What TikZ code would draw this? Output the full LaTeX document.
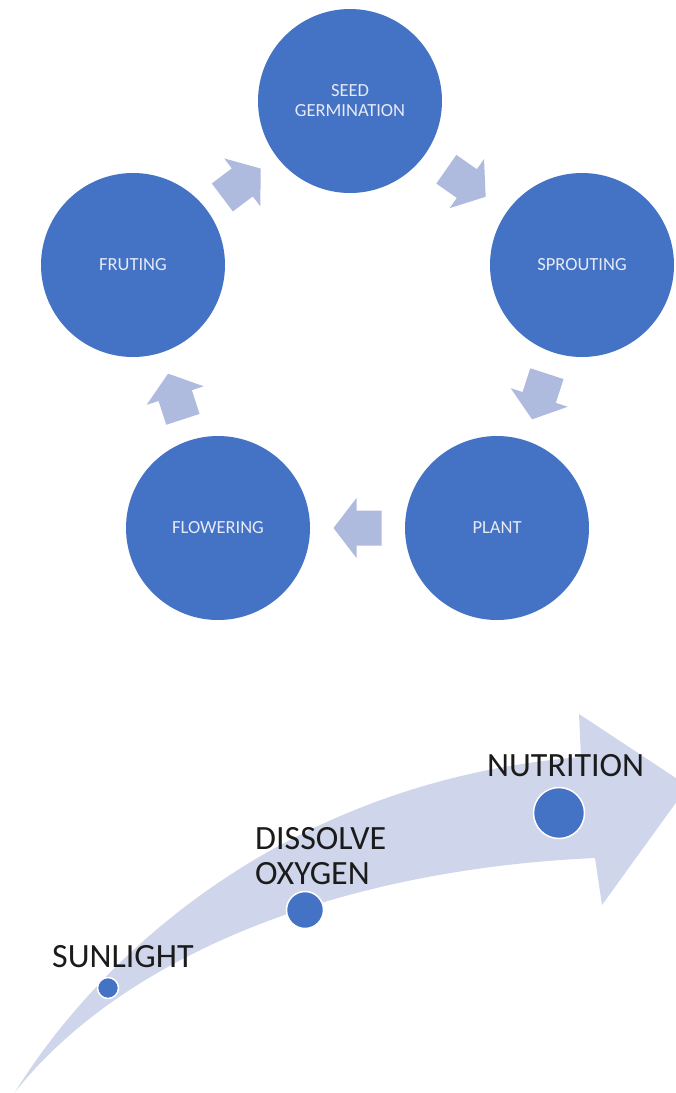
\documentclass[tikz,border=0pt]{standalone}
\usepackage{fontspec}
\setmainfont{Carlito}
\usetikzlibrary{calc}
\definecolor{circ}{HTML}{4472C4}
\definecolor{chev}{HTML}{AEBADE}
\definecolor{band}{HTML}{CFD5EA}
\definecolor{ctext}{HTML}{E6EAF6}
\definecolor{dtext}{HTML}{1B1B1B}
\tikzset{
  stage/.style={circle, fill=circ, minimum size=184pt, inner sep=0pt, text=ctext, align=center, font=\fontsize{18.5}{20}\selectfont},
  blockarrow/.pic={\fill[chev] (24,0) -- (1,30) -- (1,17.5) -- (-24,17.5) -- (-24,-17.5) -- (1,-17.5) -- (1,-30) -- cycle;},
  dot/.style={circle, fill=circ, draw=white, line width=1.5pt, inner sep=0pt},
  lbl/.style={text=dtext, inner sep=0pt, font=\fontsize{34}{35.5}\selectfont, align=left}
}
\begin{document}
\begin{tikzpicture}[x=1pt,y=-1pt]
\useasboundingbox (0,0) rectangle (676,1093);
% cycle
\node[stage] (seed)   at (350,101) {SEED\\GERMINATION};
\node[stage] (sprout) at (582,265) {SPROUTING};
\node[stage] (plant)  at (497,528) {PLANT};
\node[stage] (flower) at (218,528) {FLOWERING};
\node[stage] (fruit)  at (133,265) {FRUTING};
\pic[rotate=37]   at ($(fruit)!0.5!(seed)$)    {blockarrow};
\pic[rotate=-35]  at ($(seed)!0.5!(sprout)$)   {blockarrow};
\pic[rotate=-108] at ($(sprout)!0.5!(plant)$)  {blockarrow};
\pic[rotate=180]  at ($(plant)!0.5!(flower)$)  {blockarrow};
\pic[rotate=108]  at ($(flower)!0.5!(fruit)$)  {blockarrow};
% curved arrow
\fill[band] (15,1092) .. controls (110,940) and (300,780) .. (581,757)
  -- (579,714) -- (688,786) -- (602,905) -- (595,858)
  .. controls (330,870) and (120,960) .. (15,1092) -- cycle;
\node[dot, minimum size=21pt] (dsun) at (108,988) {};
\node[dot, minimum size=37pt] (doxy) at (305,910) {};
\node[dot, minimum size=51pt] (dnut) at (559,813) {};
\node[lbl, anchor=base west] (tsun) at (52,967) {SUNLIGHT};
\node[lbl, anchor=north west] (toxy) at (255,827) {DISSOLVE\\OXYGEN};
\node[lbl, anchor=base west] (tnut) at (487,776) {NUTRITION};
\end{tikzpicture}
\end{document}
